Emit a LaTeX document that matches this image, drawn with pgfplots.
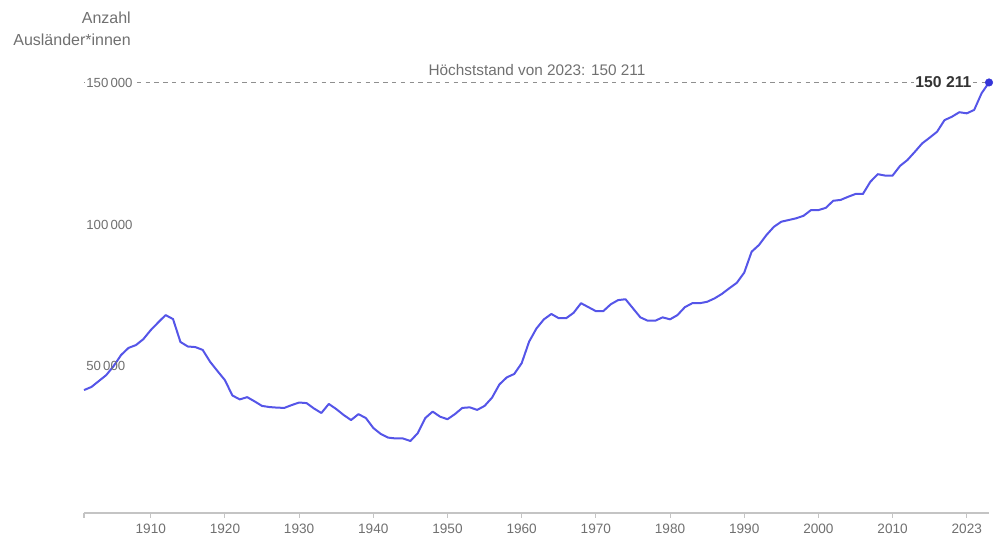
\documentclass[border=0pt]{standalone}
\usepackage{pgfplots}
\pgfplotsset{compat=1.18}
\usepackage{pgfplotstable}
\usepackage{fontspec}
\setmainfont{Liberation Sans}
\definecolor{linecol}{HTML}{5555E8}
\definecolor{dotcol}{HTML}{3535D8}
\definecolor{tickgray}{HTML}{707070}
\definecolor{axgray}{HTML}{C4C4C4}
\definecolor{dashgray}{HTML}{8F8F8F}
\pgfplotstableread{
year value
1901 41500
1902 42600
1903 44700
1904 46800
1905 50000
1906 53900
1907 56400
1908 57400
1909 59500
1910 62700
1911 65400
1912 68000
1913 66600
1914 58500
1915 56900
1916 56700
1917 55700
1918 51500
1919 48200
1920 45000
1921 39600
1922 38200
1923 39000
1924 37500
1925 35900
1926 35500
1927 35300
1928 35200
1929 36200
1930 37100
1931 36900
1932 35000
1933 33400
1934 36600
1935 34800
1936 32700
1937 30900
1938 33000
1939 31600
1940 28100
1941 26000
1942 24700
1943 24400
1944 24400
1945 23500
1946 26300
1947 31600
1948 33900
1949 32100
1950 31200
1951 33000
1952 35200
1953 35400
1954 34500
1955 35900
1956 38800
1957 43500
1958 46000
1959 47200
1960 51000
1961 58600
1962 63300
1963 66500
1964 68400
1965 66900
1966 66900
1967 68800
1968 72200
1969 70800
1970 69400
1971 69400
1972 71800
1973 73300
1974 73600
1975 70400
1976 67200
1977 66000
1978 66000
1979 67200
1980 66500
1981 68000
1982 70800
1983 72200
1984 72200
1985 72700
1986 73900
1987 75500
1988 77500
1989 79400
1990 83000
1991 90400
1992 92800
1993 96300
1994 99200
1995 101000
1996 101600
1997 102200
1998 103100
1999 105100
2000 105100
2001 105900
2002 108400
2003 108700
2004 109800
2005 110800
2006 110800
2007 115100
2008 117800
2009 117300
2010 117300
2011 120700
2012 122800
2013 125700
2014 128700
2015 130700
2016 132800
2017 136900
2018 138100
2019 139700
2020 139300
2021 140500
2022 146400
2023 150211
}\datatable
\begin{document}
\begin{tikzpicture}
\useasboundingbox (0,0) rectangle (746.25pt,405pt);
\begin{axis}[
  at={(63pt,20.25pt)}, anchor=south west,
  scale only axis,
  width=678.75pt, height=339.75pt,
  xmin=1901, xmax=2023,
  ymin=-1944, ymax=158150,
  clip=false,
  axis x line=bottom,
  axis y line=none,
  axis line style={axgray, line width=0.9pt, -},
  xtick={1910,1920,1930,1940,1950,1960,1970,1980,1990,2000,2010,2020},
  xticklabels={1910,1920,1930,1940,1950,1960,1970,1980,1990,2000,2010,2023},
  extra x ticks={1901},
  extra x tick labels={},
  tick align=outside,
  major tick length=3.5pt,
  tick style={axgray, line width=0.8pt},
  xticklabel style={font=\fontsize{10.2}{12}\selectfont, text=tickgray, yshift=-1pt},
]
\addplot[dashgray, line width=0.9pt, dash pattern=on 3.3pt off 3.3pt] coordinates {(1901,150211) (2023,150211)};
\addplot[linecol, line width=1.5pt, line join=round] table[x=year, y=value] {\datatable};
\addplot[only marks, mark=*, mark size=2.8pt, mark options={dotcol, fill=dotcol}] coordinates {(2023,150211)};
\node[anchor=west, fill=white, inner sep=1pt, text=tickgray, font=\fontsize{9.9}{11}\selectfont] at (axis cs:1901.1,150000) {150\,000};
\node[anchor=west, inner sep=1pt, text=tickgray, font=\fontsize{9.9}{11}\selectfont] at (axis cs:1901.1,100000) {100\,000};
\node[anchor=west, inner sep=1pt, text=tickgray, font=\fontsize{9.9}{11}\selectfont] at (axis cs:1901.1,50000) {50\,000};
\node[anchor=east, fill=white, inner sep=1pt, text=black!80, font=\bfseries\fontsize{11.8}{13}\selectfont] at (axis cs:2020.85,150211) {150 211};
\node[text=tickgray, inner sep=0pt, font=\fontsize{11.5}{13}\selectfont] at (axis cs:1962.07,154600) {Höchststand von 2023: 150 211};
\node[anchor=east, align=right, text=tickgray, inner sep=0pt, font=\fontsize{12}{16.5}\selectfont] at (axis cs:1907.34,169100) {Anzahl\\Ausländer*innen};
\end{axis}
\end{tikzpicture}
\end{document}
